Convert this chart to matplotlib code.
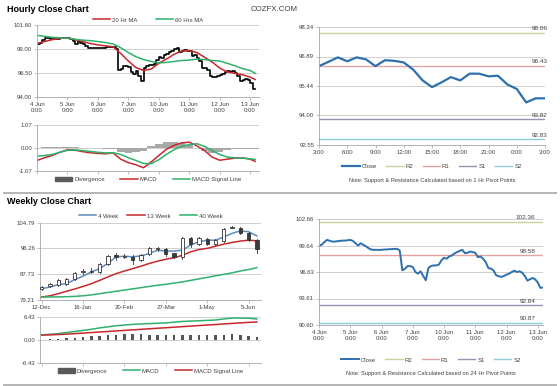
import matplotlib
matplotlib.use('Agg')
import matplotlib.pyplot as plt
from matplotlib.lines import Line2D
from matplotlib.patches import Patch, Rectangle
import numpy as np

plt.rcParams['font.family'] = ['Liberation Sans', 'DejaVu Sans']

# ---- hourly close (2-hour steps from 4 Jun 0:00) ----
day_labels = ['4 Jun', '5 Jun', '6 Jun', '7 Jun', '10 Jun', '11 Jun', '12 Jun', '13 Jun']
close_2h = [
    99.64, 99.72, 100.02, 100.28, 100.20, 100.09, 100.09, 100.13, 100.17, 100.20, 100.20, 100.24,
    100.28, 100.17, 99.90, 99.64, 99.90, 99.72, 99.56, 99.34, 99.19, 99.15, 99.15, 99.15,
    99.15, 99.19, 99.19, 99.23, 99.23, 99.26, 99.26, 99.08, 96.82, 97.00, 97.30, 97.30,
    97.20, 96.63, 96.44, 96.71, 96.18, 95.69, 97.08, 97.31, 97.38, 97.38, 97.46, 97.95,
    98.25, 98.14, 98.40, 98.51, 98.74, 98.89, 99.04, 99.15, 98.78, 98.81, 98.96, 98.89,
    98.81, 98.32, 98.40, 98.14, 97.76, 97.08, 97.01, 96.82, 96.26, 96.14, 96.07, 96.18,
    96.33, 96.44, 96.63, 96.78, 96.63, 96.71, 96.56, 96.18, 95.65, 95.80, 95.95, 95.80,
    95.43, 94.83, 94.86,
]

# moving averages / MACD read every 6 hours (last point 13 Jun 4:00)
ma20 = [99.65, 99.85, 100.05, 100.20, 100.25, 100.05, 99.85, 99.65, 99.50, 99.40,
        99.30, 98.60, 97.80, 97.10, 96.80, 96.95, 97.55, 98.00, 98.50, 98.85,
        98.90, 98.70, 98.20, 97.70, 97.05, 96.65, 96.50, 96.35, 96.10, 95.85]
ma60 = [100.50, 100.40, 100.30, 100.25, 100.20, 100.10, 100.00, 99.95, 99.85, 99.75,
        99.60, 99.20, 98.70, 98.25, 97.95, 97.75, 97.60, 97.65, 97.75, 97.85,
        97.90, 98.00, 97.95, 97.85, 97.80, 97.55, 97.30, 97.00, 96.80, 96.50]
macd_h = [-0.58, -0.45, -0.35, -0.20, -0.08, -0.10, -0.17, -0.22, -0.25, -0.27,
          -0.23, -0.52, -0.68, -0.78, -0.92, -0.65, -0.35, -0.06, 0.12, 0.24,
          0.27, 0.10, -0.12, -0.42, -0.57, -0.52, -0.47, -0.46, -0.52, -0.62]
signal_h = [-0.38, -0.35, -0.30, -0.20, -0.11, -0.09, -0.12, -0.16, -0.20, -0.23,
            -0.22, -0.30, -0.45, -0.58, -0.72, -0.73, -0.55, -0.30, -0.08, 0.08,
            0.16, 0.20, 0.08, -0.12, -0.30, -0.42, -0.46, -0.47, -0.50, -0.53]
diverg_h = [0.00, 0.03, 0.05, 0.06, 0.05, 0.03, 0.02, 0.00, -0.02, -0.03,
            -0.03, -0.20, -0.22, -0.20, -0.15, 0.10, 0.20, 0.28, 0.30, 0.25,
            0.15, 0.00, -0.15, -0.25, -0.20, -0.10, -0.03, -0.03, -0.04, -0.05]

# ---- 1 hr pivot chart ----
hour_labels = ['3:00', '6:00', '9:00', '12:00', '15:00', '18:00', '21:00', '0:00', '3:00']
close_1h = [96.42, 96.63, 96.85, 96.66, 96.85, 96.75, 96.42, 96.71, 96.68, 96.60,
            96.25, 95.72, 95.39, 95.62, 95.88, 95.72, 96.05, 96.05, 95.92, 95.95,
            95.52, 95.30, 94.64, 94.84, 94.84]
pivot_names = ['R2', 'R1', 'S1', 'S2']
pivot_1h = [98.06, 96.43, 93.82, 92.83]
pivot_24h = [102.36, 98.58, 92.84, 90.87]
pivot_colors = ['#cfcf9a', '#e6a3a3', '#9d90b5', '#8ecbdb']

# ---- weekly chart ----
week_labels = ['12-Dec', '16-Jan', '20-Feb', '27-Mar', '1-May', '5-Jun']
w_open = [82.8, 83.8, 84.1, 84.6, 86.1, 88.4, 88.6, 88.6, 91.1, 94.0, 93.5, 93.6, 92.3, 94.3,
          96.0, 96.2, 94.6, 93.4, 99.6, 97.9, 99.5, 97.7, 98.8, 103.0, 103.2, 101.5, 99.2]
w_close = [83.6, 84.5, 85.7, 86.2, 88.1, 88.7, 88.9, 91.1, 93.9, 93.3, 93.8, 92.3, 94.2, 96.5,
           96.3, 94.5, 93.6, 99.7, 97.9, 99.6, 97.7, 99.2, 102.6, 103.5, 101.5, 99.2, 96.0]
w_high = [83.9, 84.8, 86.0, 86.5, 88.5, 89.5, 89.7, 91.4, 94.2, 94.7, 94.4, 94.0, 94.5, 96.8,
          96.7, 96.5, 94.9, 100.0, 100.0, 100.0, 99.8, 99.5, 102.9, 103.8, 103.5, 101.8, 99.5]
w_low = [82.5, 83.5, 83.8, 84.3, 85.8, 87.8, 88.3, 88.3, 90.8, 92.5, 93.0, 91.0, 92.0, 94.0,
         95.5, 93.8, 93.2, 92.8, 96.6, 97.5, 97.3, 97.4, 98.5, 102.9, 101.0, 98.8, 94.8]
ma4w = [82.96, 83.5, 84.3, 84.6, 85.95, 87.1, 88.5, 89.6, 91.3, 93.5, 93.7, 93.5, 93.8, 94.6,
        95.7, 95.4, 95.4, 95.7, 97.4, 98.5, 99.0, 99.0, 100.1, 101.25, 102.1, 101.8, 100.4]
ma13w = [80.2, 80.6, 81.3, 82.1, 82.85, 83.7, 84.6, 85.7, 86.85, 87.95, 88.8, 89.6, 90.4, 91.3,
         92.05, 92.7, 93.2, 94.0, 95.15, 95.9, 96.3, 97.0, 97.7, 98.25, 98.7, 99.0, 98.8]
ma40w = [80.2, 80.2, 80.25, 80.3, 80.4, 80.6, 80.9, 81.3, 81.7, 82.1, 82.5, 82.9, 83.3, 83.7,
         84.1, 84.4, 84.8, 85.2, 85.7, 86.2, 86.7, 87.2, 87.7, 88.2, 88.8, 89.3, 89.9]
macd_w = [1.35, 1.5, 1.7, 2.0, 2.3, 2.6, 2.9, 3.3, 3.6, 3.9, 4.1, 4.3, 4.4, 4.5,
          4.6, 4.7, 4.9, 5.1, 5.2, 5.3, 5.4, 5.5, 5.8, 6.05, 6.05, 6.0, 5.8]
signal_w = [1.3, 1.35, 1.45, 1.55, 1.7, 1.85, 2.0, 2.15, 2.3, 2.45, 2.6, 2.75, 2.9, 3.05,
            3.2, 3.35, 3.5, 3.65, 3.8, 3.95, 4.1, 4.25, 4.4, 4.55, 4.7, 4.85, 4.95]
diverg_w = [0.05, 0.15, 0.25, 0.45, 0.6, 0.75, 0.9, 1.1, 1.3, 1.45, 1.5, 1.55, 1.5, 1.45,
            1.4, 1.35, 1.4, 1.45, 1.4, 1.35, 1.3, 1.25, 1.4, 1.5, 1.35, 1.15, 0.85]

RED = '#c8282d'
GREEN = '#2fb16c'
BLUE = '#2e6fae'
STEEL = '#5f8bbd'
FS = 4.3

W, H = 560, 386


def add_ax(fig, x0, y0, x1, y1):
    # pixel box -> figure fraction
    return fig.add_axes([x0 / W, 1 - y1 / H, (x1 - x0) / W, (y1 - y0) / H])


def style_axes(ax, yticks, ylabels):
    ax.set_ylim(yticks[0], yticks[-1])
    ax.set_yticks(yticks)
    ax.set_yticklabels(ylabels)
    ax.grid(axis='y', color='#c8c8c8', lw=0.6)
    ax.set_axisbelow(True)
    for side in ['top', 'right']:
        ax.spines[side].set_visible(False)
    for side in ['left', 'bottom']:
        ax.spines[side].set_color('#a6a6a6')
        ax.spines[side].set_linewidth(0.6)
    ax.tick_params(labelsize=FS, colors='#a6a6a6', labelcolor='#404040',
                   length=2, width=0.5, pad=1.5)


def legend_row(ax, handles, labels, y, gap=1.8):
    ax.legend(handles, labels, loc='center', bbox_to_anchor=(0.5, y), ncol=len(labels),
              frameon=False, fontsize=FS, handlelength=2.9, handletextpad=0.3,
              columnspacing=gap, borderaxespad=0, labelcolor='#404040')


fig = plt.figure(figsize=(5.6, 3.86), dpi=100)

fig.text(7 / W, 1 - 9 / H, 'Hourly Close Chart', fontsize=6.5, weight='bold', va='center')
fig.text(274 / W, 1 - 9.5 / H, 'COZFX.COM', fontsize=5.7, color='#404040', va='center', ha='center')
fig.text(7 / W, 1 - 202 / H, 'Weekly Close Chart', fontsize=6.5, weight='bold', va='center')
for yy in [192.5, 384.5]:
    fig.add_artist(Line2D([4 / W, 556 / W], [1 - yy / H] * 2, color='#b4b4b4', lw=1.4))

# ---- hourly main ----
hx = np.arange(len(close_2h)) * 2
mx = list(range(0, 169, 6)) + [172]
day_ticks = np.arange(len(day_labels)) * 24
day_ticklabels = [d + '\n0:00' for d in day_labels]

ax1 = add_ax(fig, 37, 25, 259, 97)
style_axes(ax1, np.linspace(94.0, 101.6, 4), ['94.00', '96.50', '99.00', '101.60'])
ax1.plot(hx, close_2h, color='black', lw=1.2, drawstyle='steps-post')
l20, = ax1.plot(mx, ma20, color=RED, lw=1.1)
l60, = ax1.plot(mx, ma60, color=GREEN, lw=1.1)
ax1.set_xlim(0, 175)
ax1.set_xticks(day_ticks)
ax1.set_xticklabels(day_ticklabels, linespacing=1.3)
legend_row(ax1, [l20, l60], ['20 Hr MA', '60 Hrs MA'], 1.07, gap=3.0)

# ---- hourly MACD ----
ax2 = add_ax(fig, 37, 125, 259, 171)
style_axes(ax2, [-1.07, 0.0, 1.07], ['-1.07', '0.00', '1.07'])
ax2.bar(mx, diverg_h, width=6, color='#a8a8a8', lw=0)
m1, = ax2.plot(mx, macd_h, color=RED, lw=1.1)
m2, = ax2.plot(mx, signal_h, color=GREEN, lw=1.1)
ax2.set_xlim(0, 175)
ax2.set_xticks(day_ticks)
ax2.set_xticklabels([])
legend_row(ax2, [Patch(color='#5a5a5a'), m1, m2], ['Divergence', 'MACD', 'MACD Signal Line'],
           -0.185, gap=2.6)

# ---- 1 hr pivot ----
ax3 = add_ax(fig, 319, 27, 545, 145)
style_axes(ax3, np.linspace(92.55, 98.34, 5), ['92.55', '94.00', '95.44', '96.89', '98.34'])
handles = []
for name, lvl, col in zip(pivot_names, pivot_1h, pivot_colors):
    h, = ax3.plot([0, 24], [lvl, lvl], color=col, lw=1.0)
    handles.append(h)
    ax3.text(1.01, lvl + 0.07, f'{lvl:.2f}', transform=ax3.get_yaxis_transform(),
             ha='right', va='bottom', fontsize=4.6, color='#404040')
hc, = ax3.plot(range(len(close_1h)), close_1h, color=BLUE, lw=1.6)
ax3.set_xlim(0, 24)
ax3.set_xticks(range(0, 25, 3))
ax3.set_xticklabels(hour_labels)
legend_row(ax3, [hc] + handles, ['Close'] + pivot_names, -0.178, gap=1.6)
ax3.text(0.5, -0.297, 'Note: Support & Resistance Calculated based on 1 Hr Pivot Points',
         transform=ax3.transAxes, ha='center', va='center', fontsize=4.1, color='#404040')

# ---- weekly main ----
wx = np.arange(len(w_close))
ax4 = add_ax(fig, 40, 222.7, 261, 300)
style_axes(ax4, np.linspace(79.21, 104.79, 4), ['79.21', '87.73', '96.26', '104.79'])
a4, = ax4.plot(wx, ma4w, color=STEEL, lw=1.1, zorder=3)
a13, = ax4.plot(wx, ma13w, color=RED, lw=1.1, zorder=3)
a40, = ax4.plot(wx, ma40w, color=GREEN, lw=1.1, zorder=3)
for i in range(len(w_close)):
    o, c = w_open[i], w_close[i]
    ax4.plot([i, i], [w_low[i], w_high[i]], color='#333333', lw=0.6, zorder=4)
    bottom = min(o, c)
    height = max(abs(c - o), 0.25)
    face = 'white' if c >= o else '#3c3c3c'
    ax4.add_patch(Rectangle((i - 0.2, bottom), 0.4, height, facecolor=face,
                            edgecolor='#333333', lw=0.6, zorder=5))
ax4.set_xlim(-0.2, 26.5)
ax4.set_xticks(range(0, 26, 5))
ax4.set_xticklabels(week_labels)
legend_row(ax4, [a4, a13, a40], ['4 Week', '13 Week', '40 Week'], 1.087, gap=1.6)

# ---- weekly MACD ----
ax5 = add_ax(fig, 40, 316.7, 261, 362.7)
style_axes(ax5, [-6.43, 0.0, 6.43], ['-6.43', '0.00', '6.43'])
ax5.bar(wx, diverg_w, width=0.3, color='#555555', lw=0)
b1, = ax5.plot(wx, macd_w, color=GREEN, lw=1.1)
b2, = ax5.plot(wx, signal_w, color=RED, lw=1.1)
ax5.set_xlim(-0.2, 26.5)
ax5.set_xticks(range(0, 26, 5))
ax5.set_xticklabels([])
legend_row(ax5, [Patch(color='#5a5a5a'), b1, b2], ['Divergence', 'MACD', 'MACD Signal Line'],
           -0.18, gap=2.6)

# ---- 24 hr pivot ----
ax6 = add_ax(fig, 319, 219, 543, 325)
style_axes(ax6, np.linspace(90.60, 102.66, 5), ['90.60', '93.61', '96.63', '99.64', '102.66'])
handles = []
for name, lvl, col in zip(pivot_names, pivot_24h, pivot_colors):
    h, = ax6.plot([0, 172], [lvl, lvl], color=col, lw=1.0)
    handles.append(h)
    ax6.text(0.965, lvl + 0.15, f'{lvl:.2f}', transform=ax6.get_yaxis_transform(),
             ha='right', va='bottom', fontsize=4.6, color='#404040')
hc, = ax6.plot(hx, close_2h, color=BLUE, lw=1.4)
ax6.set_xlim(0, 172)
ax6.set_xticks(day_ticks)
ax6.set_xticklabels(day_ticklabels, linespacing=1.3)
legend_row(ax6, [hc] + handles, ['Close'] + pivot_names, -0.33, gap=1.6)
ax6.text(0.5, -0.453, 'Note: Support & Resistance Calculated based on 24 Hr Pivot Points',
         transform=ax6.transAxes, ha='center', va='center', fontsize=4.1, color='#404040')

fig.savefig('out.png', dpi=100)
